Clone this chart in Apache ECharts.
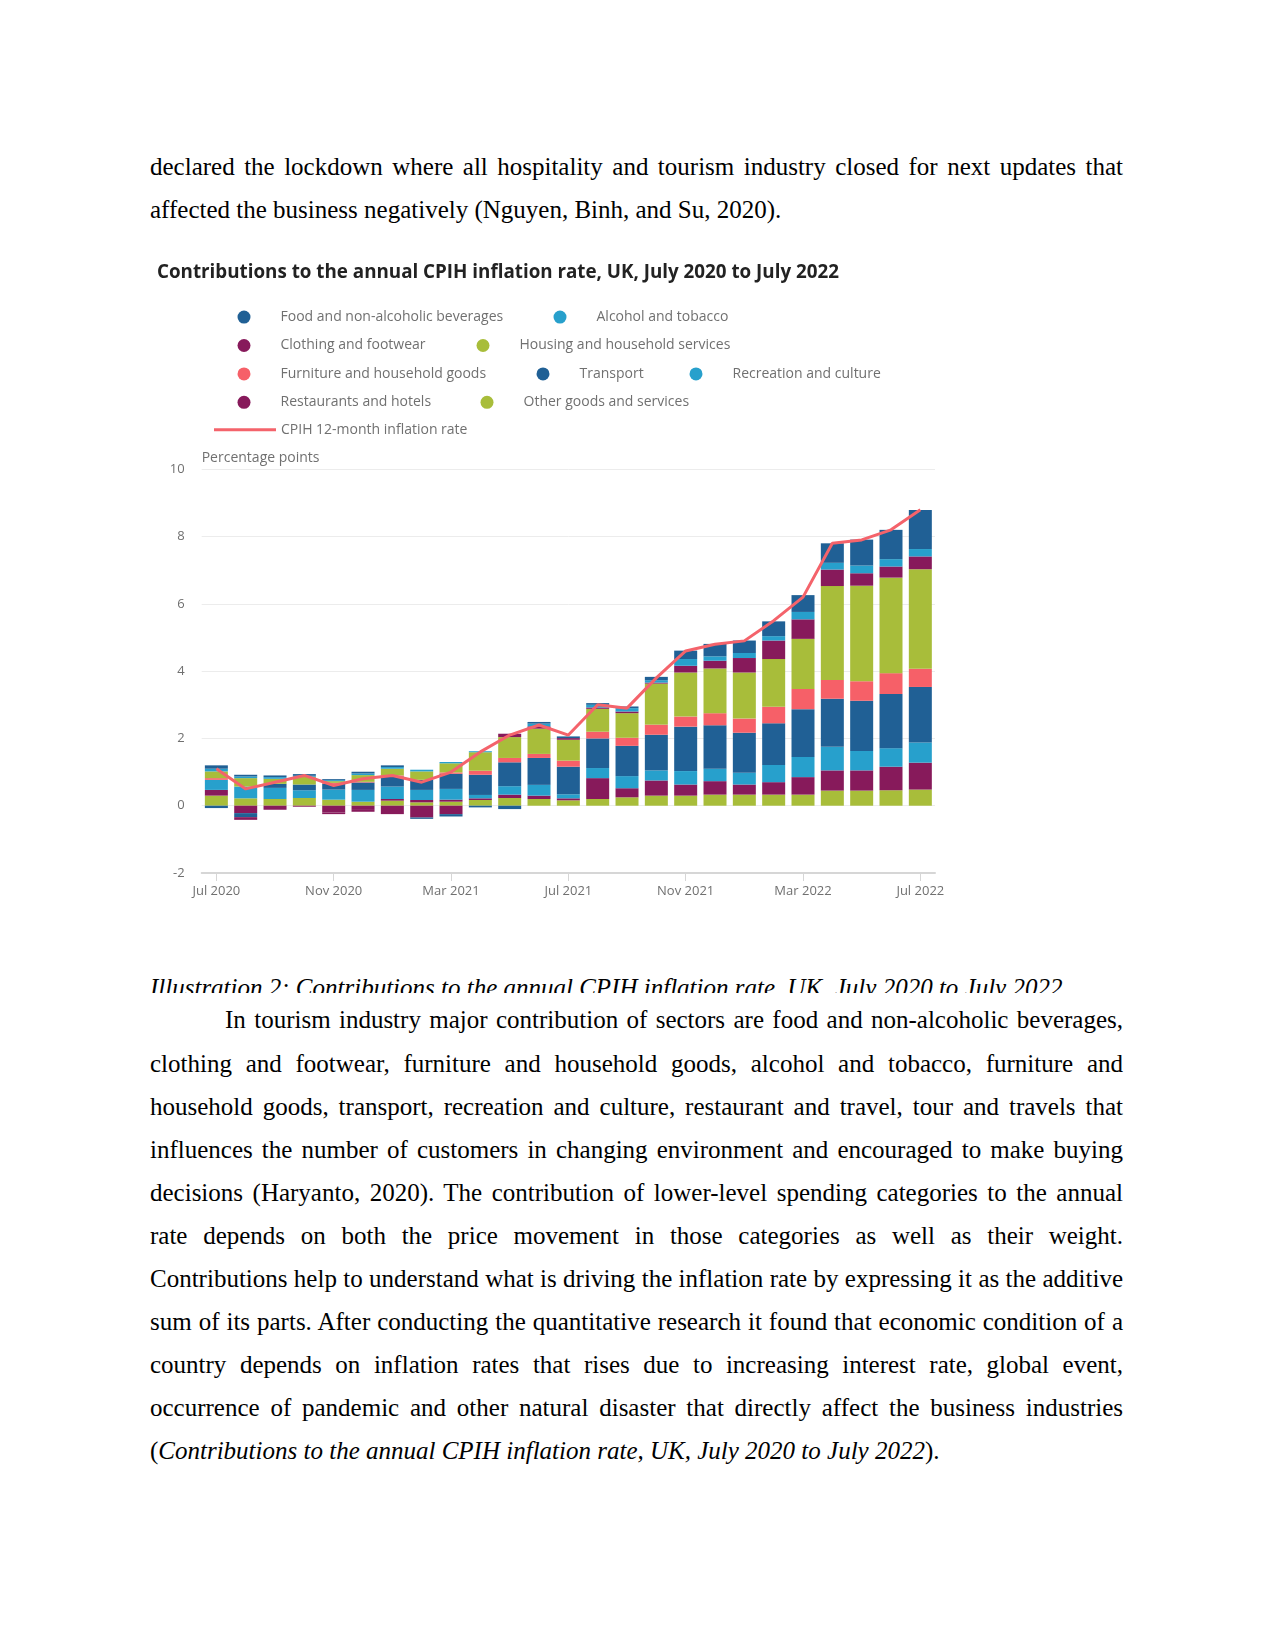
<!DOCTYPE html>
<html><head><meta charset="utf-8">
<script src="https://cdn.jsdelivr.net/npm/echarts@6/dist/echarts.min.js"></script>
<style>
body{margin:0;background:#fff;}
#page{position:relative;width:1275px;height:1650px;overflow:hidden;background:#fff;}
.ln{position:absolute;left:150px;width:973px;height:30px;line-height:30px;font-family:"Liberation Serif","Times New Roman",serif;font-size:25px;color:#000;}
.j{text-align:justify;text-align-last:justify;}
#cap{position:absolute;left:150px;top:973px;width:1050px;height:20px;overflow:hidden;}
#cap div{font-family:"Liberation Serif","Times New Roman",serif;font-size:25px;line-height:30px;height:30px;font-style:italic;white-space:nowrap;}
#chart{position:absolute;left:0;top:235px;width:1275px;height:700px;}
</style></head>
<body><div id="page">
<div class="ln j" style="top:151.5px">declared the lockdown where all hospitality and tourism industry closed for next updates that</div>
<div class="ln" style="top:194.5px">affected the business negatively (Nguyen, Binh, and Su, 2020).</div>
<div id="chart"></div>
<div id="cap"><div>Illustration 2: Contributions to the annual CPIH inflation rate, UK, July 2020 to July 2022</div></div>
<div class="ln j" style="top:1005.4px;left:225px;width:898px">In tourism industry major contribution of sectors are food and non-alcoholic beverages,</div>
<div class="ln j" style="top:1048.5px">clothing and footwear, furniture and household goods, alcohol and tobacco, furniture and</div>
<div class="ln j" style="top:1091.6px">household goods, transport, recreation and culture, restaurant and travel, tour and travels that</div>
<div class="ln j" style="top:1134.7px">influences the number of customers in changing environment and encouraged to make buying</div>
<div class="ln j" style="top:1177.8px">decisions (Haryanto, 2020). The contribution of lower-level spending categories to the annual</div>
<div class="ln j" style="top:1220.9px">rate depends on both the price movement in those categories as well as their weight.</div>
<div class="ln j" style="top:1264px">Contributions help to understand what is driving the inflation rate by expressing it as the additive</div>
<div class="ln j" style="top:1307.1px">sum of its parts. After conducting the quantitative research it found that economic condition of a</div>
<div class="ln j" style="top:1350.2px">country depends on inflation rates that rises due to increasing interest rate, global event,</div>
<div class="ln j" style="top:1393.3px">occurrence of pandemic and other natural disaster that directly affect the business industries</div>
<div class="ln" style="top:1436.4px">(<i>Contributions to the annual CPIH inflation rate, UK, July 2020 to July 2022</i>).</div>
</div>
<script>
const categories = ['Jul 2020','Aug 2020','Sep 2020','Oct 2020','Nov 2020','Dec 2020','Jan 2021','Feb 2021','Mar 2021','Apr 2021','May 2021','Jun 2021','Jul 2021','Aug 2021','Sep 2021','Oct 2021','Nov 2021','Dec 2021','Jan 2022','Feb 2022','Mar 2022','Apr 2022','May 2022','Jun 2022','Jul 2022'];
const foodBev     = [0.10,0.05,0.05,0.05,0.03,0.05,0.05,-0.04,-0.07,-0.05,-0.10,0.05,0.05,0.05,0.05,0.10,0.25,0.37,0.37,0.44,0.50,0.58,0.77,0.87,1.16];
const alcohol     = [0.08,0.05,0.05,0.03,0.03,0.05,0.05,0.05,0.04,0.03,0.00,0.08,0.00,0.08,0.10,0.07,0.20,0.13,0.15,0.13,0.22,0.20,0.23,0.22,0.22];
const clothing    = [0.00,-0.08,0.00,0.00,-0.05,-0.08,-0.25,-0.35,-0.25,0.00,0.10,0.07,0.05,0.04,0.05,0.03,0.20,0.23,0.43,0.55,0.58,0.49,0.37,0.33,0.38];
const housing     = [0.20,0.25,0.15,0.23,0.05,0.20,0.20,0.25,0.27,0.55,0.62,0.75,0.62,0.68,0.73,1.22,1.31,1.33,1.37,1.42,1.49,2.79,2.84,2.84,2.96];
const furniture   = [0.05,0.00,0.00,0.00,0.03,0.02,0.03,0.00,0.04,0.12,0.13,0.12,0.18,0.20,0.24,0.30,0.30,0.36,0.42,0.49,0.60,0.56,0.58,0.62,0.54];
const transport   = [-0.07,-0.12,0.12,0.17,0.17,0.22,0.30,0.30,0.45,0.60,0.71,0.80,0.82,0.88,0.90,1.06,1.32,1.29,1.19,1.24,1.42,1.43,1.49,1.61,1.65];
const recreation  = [0.30,0.35,0.33,0.23,0.30,0.35,0.37,0.30,0.32,0.10,0.25,0.32,0.12,0.30,0.36,0.30,0.40,0.37,0.35,0.51,0.60,0.70,0.58,0.55,0.60];
const restaurants = [0.17,-0.22,-0.12,-0.03,-0.20,-0.10,0.05,0.07,0.06,0.05,0.10,0.10,0.06,0.62,0.27,0.45,0.33,0.40,0.30,0.37,0.52,0.60,0.60,0.70,0.80];
const otherGoods  = [0.30,0.22,0.20,0.23,0.18,0.12,0.15,0.10,0.12,0.17,0.23,0.20,0.16,0.20,0.25,0.30,0.30,0.33,0.33,0.33,0.33,0.45,0.45,0.46,0.48];
const cpihRate    = [1.1,0.5,0.7,0.9,0.6,0.8,0.9,0.7,1.0,1.6,2.1,2.4,2.1,3.0,2.9,3.8,4.6,4.8,4.9,5.5,6.2,7.8,7.9,8.2,8.8];

const DARK='#206095', CYAN='#27a0cc', PURPLE='#871a5b', GREEN='#a8bd3a', SALMON='#f66068', LINE='#f4636b';
const FONT='"Open Sans", "Noto Sans", sans-serif';

// stacking order: first in this list sits at the bottom (next to zero)
const stackDefs = [
  ['Other goods and services', otherGoods, GREEN],
  ['Restaurants and hotels', restaurants, PURPLE],
  ['Recreation and culture', recreation, CYAN],
  ['Transport', transport, DARK],
  ['Furniture and household goods', furniture, SALMON],
  ['Housing and household services', housing, GREEN],
  ['Clothing and footwear', clothing, PURPLE],
  ['Alcohol and tobacco', alcohol, CYAN],
  ['Food and non-alcoholic beverages', foodBev, DARK]
];

const series = stackDefs.map(([name, data, color]) => ({
  name, type:'bar', stack:'cpih', data, barWidth:23,
  itemStyle:{color}, emphasis:{disabled:true}
}));
series.push({
  name:'CPIH 12-month inflation rate', type:'line', data:cpihRate, symbol:'none',
  lineStyle:{color:LINE, width:3}, itemStyle:{color:LINE}, z:5, emphasis:{disabled:true}
});

function leg(name, left, top, extra){
  return Object.assign({
    data:[name], left, top, padding:0, itemWidth:13, itemHeight:13, icon:'circle',
    selectedMode:false,
    textStyle:{fontFamily:FONT, fontSize:14, color:'#707070', lineHeight:13, padding:[0,0,0,25]}
  }, extra||{});
}

const option = {
  animation:false,
  title:{text:'Contributions to the annual CPIH inflation rate, UK, July 2020 to July 2022',
    left:157, top:27, padding:0,
    textStyle:{fontFamily:FONT, fontWeight:'bold', fontSize:18.8, lineHeight:22, color:'#222222'}},
  legend:[
    leg('Food and non-alcoholic beverages', 237.5, 75.1),
    leg('Alcohol and tobacco', 553.5, 75.1),
    leg('Clothing and footwear', 237.5, 103.5),
    leg('Housing and household services', 476.5, 103.5),
    leg('Furniture and household goods', 237.5, 131.9),
    leg('Transport', 536.5, 131.9),
    leg('Recreation and culture', 689.5, 131.9),
    leg('Restaurants and hotels', 237.5, 160.3),
    leg('Other goods and services', 480.5, 160.3),
    leg('CPIH 12-month inflation rate', 214, 187.7, {icon:'rect', itemWidth:62, itemHeight:3,
      textStyle:{fontFamily:FONT, fontSize:14, color:'#707070', lineHeight:13}})
  ],
  grid:{left:201.7, top:234.3, width:733.3, height:403.7, containLabel:false},
  xAxis:{type:'category', data:categories,
    axisLine:{onZero:false, lineStyle:{color:'#d6d6d6', width:2}},
    axisTick:{show:true, interval:3, alignWithLabel:true, length:8, lineStyle:{color:'#d6d6d6'}},
    axisLabel:{interval:3, color:'#707070', fontFamily:FONT, fontSize:13, margin:12},
    splitLine:{show:false}},
  yAxis:{type:'value', min:-2, max:10, interval:2,
    name:'Percentage points', nameLocation:'end', nameGap:11,
    nameTextStyle:{align:'left', verticalAlign:'middle', fontFamily:FONT, fontSize:14, color:'#707070'},
    axisLine:{show:false}, axisTick:{show:false},
    axisLabel:{color:'#707070', fontFamily:FONT, fontSize:13, margin:17},
    splitLine:{lineStyle:{color:'#ececec', width:1}}},
  series
};
const chart = echarts.init(document.getElementById('chart'), null, {renderer:'canvas'});
chart.setOption(option);
</script>
</body></html>
